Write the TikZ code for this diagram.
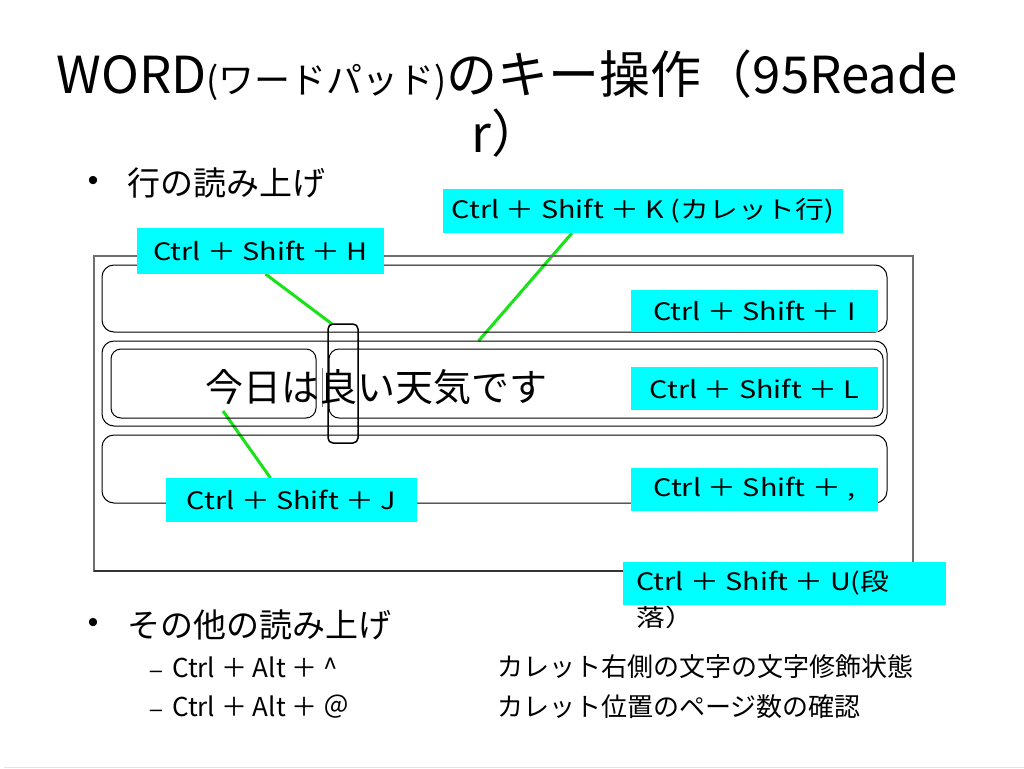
\documentclass[tikz,border=0pt]{standalone}
\usepackage{fontspec}
\setmainfont{Noto Sans CJK JP}
\newfontfamily\labfont[FakeStretch=1.2]{Noto Sans CJK JP}
\newfontfamily\latinfont{Liberation Sans}
\definecolor{cy}{RGB}{0,255,255}
\definecolor{gr}{RGB}{24,226,24}
\definecolor{frame}{RGB}{110,110,110}
\pgfdeclarelayer{bgfill}
\pgfdeclarelayer{links}
\pgfsetlayers{bgfill,links,main}
\tikzset{
  lab/.style={fill=cy, inner sep=0pt, outer sep=0pt, anchor=north west,
    font=\labfont\fontsize{24}{24}\selectfont},
  row/.style={draw=black, line width=1pt, rounded corners=12pt, inner sep=0pt,
    outer sep=0pt, anchor=north west},
  link/.style={draw=gr, line width=3pt},
  title/.style={font=\fontsize{51}{51}\selectfont, inner sep=0pt},
  bul/.style={font=\fontsize{33}{33}\selectfont, inner sep=0pt, anchor=west},
  bulmark/.style={font=\latinfont\fontsize{30}{30}\selectfont, inner sep=0pt},
  sub/.style={font=\fontsize{26}{26}\selectfont, inner sep=0pt, anchor=west},
  dashmark/.style={font=\latinfont\fontsize{22}{22}\selectfont, inner sep=0pt, anchor=base},
}
\begin{document}
\begin{tikzpicture}[x=1pt,y=-1pt]
\begin{pgfonlayer}{bgfill}
\fill[white] (0,0) rectangle (1024,768);
\end{pgfonlayer}
\useasboundingbox (0,0) rectangle (1024,768);
\draw[gray!20, line width=1pt] (4,767) -- (1024,767);

% title
\node[title] (t1) at (507,75) {WORD{\fontsize{36}{36}\selectfont(ワードパッド)}のキー操作（95Reade};
\node[title] (t2) at (507,133) {r）};

% bullets
\node[bulmark] (b1) at (93,183) {•};
\node[bul] (b1t) at (127,183) {行の読み上げ};
\node[bulmark] (b2) at (93,625) {•};
\node[bul] (b2t) at (127,625) {その他の読み上げ};
\coordinate (dx) at (156,0);
\node[sub] (s1) at (172,667) {Ctrl ＋ Alt ＋ \^{}};
\node[sub] (e1) at (497,667) {カレット右側の文字の文字修飾状態};
\node[sub] (s2) at (172,707) {Ctrl ＋ Alt ＋ ＠};
\node[sub] (e2) at (497,707) {カレット位置のページ数の確認};
\node[dashmark] (d1) at (s1.base -| dx) {–};
\node[dashmark] (d2) at (s2.base -| dx) {–};

% window frame
\draw[frame, line width=1.5pt] (94,256) rectangle (913,571);
\draw[black!80, line width=1.5pt] (94,571) -- (913,571);

% rows
\node[row, minimum width=785, minimum height=67] (r1) at (102,265) {};
\node[row, minimum width=785, minimum height=85] (r2) at (102,341) {};
\node[row, rounded corners=10pt, minimum width=205, minimum height=69] (r2a) at (111,349) {};
\node[row, rounded corners=10pt, minimum width=554, minimum height=69] (r2b) at (329,349) {};
\node[row, minimum width=785, minimum height=68] (r3) at (102,435) {};

% caret line and box
\draw[gray, line width=0.8pt] (322,368) -- (322,407);
\node[draw=black, line width=1.5pt, rounded corners=5pt, inner sep=0pt, outer sep=0pt,
  minimum width=30, minimum height=119, anchor=north west] (caret) at (328,324) {};

% sentence
\node[font=\fontsize{38}{38}\selectfont, inner sep=0pt, anchor=west] (txt) at (205,387) {今日は良い天気です};

% labels
\node[lab, minimum width=247, minimum height=46] (h) at (137,228) {Ctrl ＋ Shift ＋ H};
\node[lab, minimum width=400, minimum height=44] (k) at (443,189) {Ctrl ＋ Shift ＋ K (カレット行)};
\node[lab, minimum width=251, minimum height=44] (j) at (166,478) {Ctrl ＋ Shift ＋ J};
\node[lab, minimum width=247, minimum height=42] (i) at (631,290) {Ctrl ＋ Shift ＋ I};
\node[lab, minimum width=247, minimum height=43] (l) at (631,367) {Ctrl ＋ Shift ＋ L};
\node[lab, minimum width=247, minimum height=43] (c) at (631,468) {Ctrl ＋ Shift ＋ ,};
\node[lab, minimum width=323, minimum height=43] (u) at (623,562) {};
\node[font=\labfont\fontsize{24}{36}\selectfont, inner sep=0pt, anchor=north west, align=left] (ut) at (636,570) {Ctrl ＋ Shift ＋ U(段\\落）};

% links (under labels)
\coordinate (jt) at (223,411);
\begin{pgfonlayer}{links}
\draw[link] ([xshift=5pt]h.south) -- ([xshift=4pt]caret.north west);
\draw[link] ([xshift=-71pt]k.south) -- ([xshift=-16pt]r2.north);
\draw[link] (jt) -- ([xshift=-21pt]j.north);
\end{pgfonlayer}
\end{tikzpicture}
\end{document}
